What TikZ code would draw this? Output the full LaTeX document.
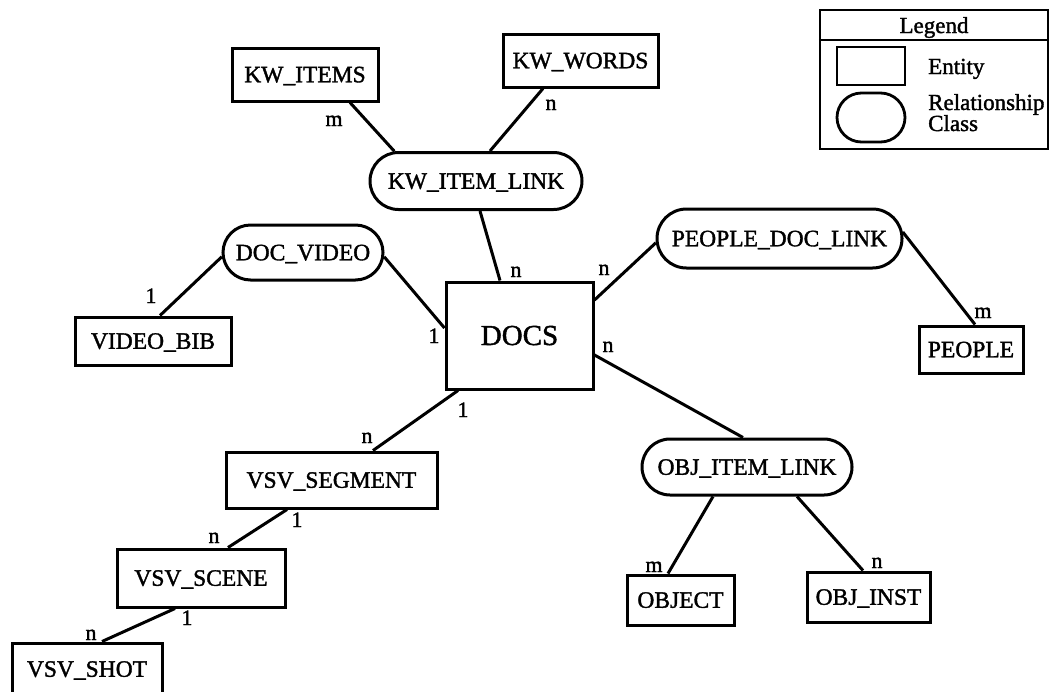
\documentclass[tikz,border=0pt]{standalone}
\usepackage{fontspec}
\setmainfont{Liberation Serif}[FakeBold=1.5]
\usetikzlibrary{shapes.misc}
\begin{document}
\begin{tikzpicture}[x=1pt,y=-1pt,
  lw/.style={line width=3pt},
  entity/.style={draw, lw, rectangle, inner sep=0pt,
    font=\fontsize{23.5}{26}\selectfont, text height=15.5pt, text depth=0pt},
  rel/.style={draw, lw, rounded rectangle, inner sep=0pt,
    font=\fontsize{23.5}{26}\selectfont, text height=15.5pt, text depth=0pt},
  link/.style={lw},
  card/.style={font=\fontsize{22}{24}\selectfont, inner sep=0pt, anchor=base},
  legtext/.style={font=\fontsize{23}{26}\selectfont, inner sep=0pt, anchor=base west}
]
\fill[white] (0,0) rectangle (1051,691);
\clip (0,0) rectangle (1051,691);

% entities and relationship classes
\node[entity, minimum width=146pt, minimum height=53pt] (kwitems) at (305,74.5) {KW\_ITEMS};
\node[entity, minimum width=155pt, minimum height=53pt] (kwwords) at (580.5,60.5) {KW\_WORDS};
\node[rel, minimum width=212pt, minimum height=57pt] (kwlink) at (476,181) {KW\_ITEM\_LINK};
\node[rel, minimum width=160pt, minimum height=55pt] (docvideo) at (303,252.5) {DOC\_VIDEO};
\node[entity, minimum width=156pt, minimum height=48pt] (videobib) at (153,341) {VIDEO\_BIB};
\node[entity, minimum width=147pt, minimum height=107pt,
  font=\fontsize{29}{32}\selectfont, text height=19pt] (docs) at (519.5,335.5) {DOCS};
\node[rel, minimum width=245pt, minimum height=59pt] (peoplelink) at (779.5,238.5) {PEOPLE\_DOC\_LINK};
\node[entity, minimum width=104pt, minimum height=47pt] (people) at (971,349.5) {PEOPLE};
\node[rel, minimum width=210pt, minimum height=56pt] (objlink) at (747,467) {OBJ\_ITEM\_LINK};
\node[entity, minimum width=107pt, minimum height=50pt] (object) at (680.5,600) {OBJECT};
\node[entity, minimum width=123pt, minimum height=50pt] (objinst) at (868.5,597) {OBJ\_INST};
\node[entity, minimum width=211pt, minimum height=56pt] (vsvseg) at (331.5,480) {VSV\_SEGMENT};
\node[entity, minimum width=168pt, minimum height=58pt] (vsvscene) at (201,578) {VSV\_SCENE};
\node[entity, minimum width=150pt, minimum height=52pt] (vsvshot) at (87,669) {VSV\_SHOT};

% connectors
\draw[link] ([xshift=45pt]kwitems.south) -- (kwlink.160);
\draw[link] ([xshift=-37.5pt]kwwords.south) -- (kwlink.65);
\draw[link] ([xshift=4pt]kwlink.south) -- ([xshift=-19.5pt]docs.north);
\draw[link] (docvideo.183) -- ([xshift=7pt]videobib.north);
\draw[link] (docvideo.357) -- ([yshift=7.5pt]docs.west);
\draw[link] ([yshift=35.5pt]docs.east) -- (peoplelink.182);
\draw[link] (peoplelink.3) -- ([xshift=4pt]people.north);
\draw[link] ([yshift=-19.5pt]docs.east) -- ([xshift=-4pt]objlink.north);
\draw[link] ([xshift=-34pt]objlink.south) -- ([xshift=-12.5pt]object.north);
\draw[link] ([xshift=50pt]objlink.south) -- ([xshift=-5.5pt]objinst.north);
\draw[link] ([xshift=-61.5pt]docs.south) -- ([xshift=41.5pt]vsvseg.north);
\draw[link] ([xshift=-44.5pt]vsvseg.south) -- ([xshift=27pt]vsvscene.north);
\draw[link] ([xshift=-26pt]vsvscene.south) -- ([xshift=15pt]vsvshot.north);

% cardinalities
\node[card] (c1) at (334,126) {m};
\node[card] (c2) at (551,110) {n};
\node[card] (c3) at (516,277) {n};
\node[card] (c4) at (151,303) {1};
\node[card] (c5) at (434,343) {1};
\node[card] (c6) at (604,275) {n};
\node[card] (c7) at (983,318) {m};
\node[card] (c8) at (608,352) {n};
\node[card] (c9) at (654,572) {m};
\node[card] (c10) at (877,568) {n};
\node[card] (c11) at (463,417) {1};
\node[card] (c12) at (367,443) {n};
\node[card] (c13) at (297,527) {1};
\node[card] (c14) at (214,543) {n};
\node[card] (c15) at (187,625) {1};
\node[card] (c16) at (91,640) {n};

% legend
\node[draw, line width=2.4pt, minimum width=228pt, minimum height=139pt, inner sep=0pt] (legend) at (934,79.5) {};
\coordinate (sep) at (0,40);
\draw[line width=2.4pt] (legend.west |- sep) -- (legend.east |- sep);
\node[font=\fontsize{23}{26}\selectfont, inner sep=0pt, anchor=base] (legtitle) at (934,33) {Legend};
\node[draw, line width=2.8pt, minimum width=68pt, minimum height=38pt, inner sep=0pt] (legent) at (871,66) {};
\node[draw, line width=2.8pt, rounded rectangle, minimum width=68pt, minimum height=49pt, inner sep=0pt] (legrel) at (871,117.5) {};
\node[legtext] (legentt) at (928,74) {Entity};
\node[legtext] (legrelt) at (928,110) {Relationship};
\node[legtext] (legclt) at (928,131) {Class};
\end{tikzpicture}
\end{document}
